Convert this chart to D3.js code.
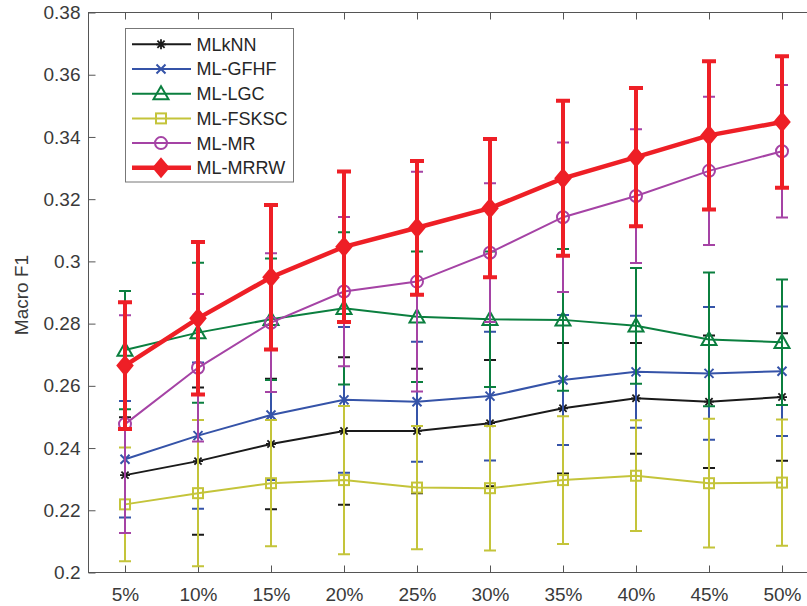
<!DOCTYPE html>
<html>
<head>
<meta charset="utf-8">
<script src="https://cdn.jsdelivr.net/npm/d3@7"></script>
<style>
  body { margin: 0; background: #fff; }
  svg { display: block; font-family: "Liberation Sans", Arial, sans-serif; }
</style>
</head>
<body>
<svg width="807" height="606"></svg>
<script>
const categories = ['5%', '10%', '15%', '20%', '25%', '30%', '35%', '40%', '45%', '50%'];
const yTicks = [0.2, 0.22, 0.24, 0.26, 0.28, 0.3, 0.32, 0.34, 0.36, 0.38];
const yTickLabels = ['0.2', '0.22', '0.24', '0.26', '0.28', '0.3', '0.32', '0.34', '0.36', '0.38'];

const mlknn = [0.2313, 0.2358, 0.2413, 0.2455, 0.2455, 0.2480, 0.2528, 0.2560, 0.2549, 0.2564];
const mlknnErr = [0.0186, 0.0237, 0.0210, 0.0237, 0.0200, 0.0203, 0.0210, 0.0178, 0.0213, 0.0205];
const gfhf = [0.2364, 0.2440, 0.2506, 0.2555, 0.2549, 0.2567, 0.2619, 0.2645, 0.2640, 0.2647];
const gfhfErr = [0.0187, 0.0235, 0.0209, 0.0234, 0.0193, 0.0207, 0.0209, 0.0180, 0.0213, 0.0208];
const lgc = [0.2715, 0.2771, 0.2814, 0.2849, 0.2822, 0.2814, 0.2812, 0.2793, 0.2749, 0.2740];
const lgcErr = [0.0190, 0.0225, 0.0195, 0.0245, 0.0210, 0.0218, 0.0228, 0.0186, 0.0215, 0.0202];
const fsksc = [0.2219, 0.2255, 0.2287, 0.2297, 0.2273, 0.2271, 0.2297, 0.2311, 0.2287, 0.2289];
const fskscErr = [0.0183, 0.0235, 0.0203, 0.0238, 0.0198, 0.0200, 0.0205, 0.0178, 0.0207, 0.0203];
const mr = [0.2477, 0.2658, 0.2803, 0.2903, 0.2935, 0.3028, 0.3142, 0.3210, 0.3291, 0.3354];
const mrErr = [0.0350, 0.0237, 0.0223, 0.0240, 0.0353, 0.0223, 0.0240, 0.0215, 0.0238, 0.0213];
const mrrw = [0.2665, 0.2817, 0.2949, 0.3047, 0.3108, 0.3171, 0.3267, 0.3335, 0.3405, 0.3448];
const mrrwErr = [0.0204, 0.0245, 0.0232, 0.0242, 0.0215, 0.0222, 0.0249, 0.0222, 0.0238, 0.0211];

const seriesNames = ['MLkNN', 'ML-GFHF', 'ML-LGC', 'ML-FSKSC', 'ML-MR', 'ML-MRRW'];

const series = [
  { name: seriesNames[0], values: mlknn, err: mlknnErr, color: '#1a1a1a', marker: 'star', width: 2 },
  { name: seriesNames[1], values: gfhf, err: gfhfErr, color: '#3553a8', marker: 'x', width: 2 },
  { name: seriesNames[2], values: lgc, err: lgcErr, color: '#0b7f3f', marker: 'triangle', width: 2 },
  { name: seriesNames[3], values: fsksc, err: fskscErr, color: '#c4c43a', marker: 'square', width: 2 },
  { name: seriesNames[4], values: mr, err: mrErr, color: '#a543a5', marker: 'circle', width: 2 },
  { name: seriesNames[5], values: mrrw, err: mrrwErr, color: '#ee1f26', marker: 'diamond', width: 4.5 }
];

const svg = d3.select('svg');
const axisColor = '#555';
const textColor = '#3a3a3a';

const plotLeft = 88.5, plotRight = 818.5, plotTop = 12.5, plotBottom = 572.5;

const xScale = d3.scalePoint()
  .domain(categories)
  .range([plotLeft, plotRight])
  .padding(0.5);

const yScale = d3.scaleLinear()
  .domain([0.2, 0.38])
  .range([plotBottom, plotTop]);

// axes box (right side falls outside the picture)
svg.append('rect')
  .attr('x', plotLeft).attr('y', plotTop)
  .attr('width', plotRight - plotLeft).attr('height', plotBottom - plotTop)
  .attr('fill', 'none').attr('stroke', axisColor).attr('stroke-width', 1);

const xAxis = svg.append('g')
  .attr('transform', `translate(0, ${plotBottom})`)
  .call(d3.axisBottom(xScale).tickSizeInner(-7).tickSizeOuter(0).tickPadding(15));
const xTop = svg.append('g')
  .attr('transform', `translate(0, ${plotTop})`)
  .call(d3.axisTop(xScale).tickSizeInner(-7).tickSizeOuter(0).tickFormat(''));
const yAxis = svg.append('g')
  .attr('transform', `translate(${plotLeft}, 0)`)
  .call(d3.axisLeft(yScale).tickValues(yTicks).tickSizeInner(-7).tickSizeOuter(0).tickPadding(15)
    .tickFormat((d, i) => yTickLabels[i]));

[xAxis, xTop, yAxis].forEach(g => {
  g.select('.domain').remove();
  g.selectAll('line').attr('stroke', axisColor);
  g.selectAll('text')
    .attr('fill', textColor)
    .style('font-size', '19px')
    .style('font-family', '"Liberation Sans", Arial, sans-serif');
});
xAxis.selectAll('text').attr('dy', '0.72em');
yAxis.selectAll('text').attr('x', -8);

svg.append('text')
  .attr('transform', 'translate(28, 295) rotate(-90)')
  .attr('text-anchor', 'middle')
  .attr('fill', textColor)
  .style('font-size', '19px')
  .text('Macro F1');

function drawMarker(g, type, color, x, y) {
  if (type === 'star') {
    const r = 5;
    const p = `M${x - r},${y}H${x + r}M${x},${y - r}V${y + r}` +
      `M${x - r * 0.72},${y - r * 0.72}L${x + r * 0.72},${y + r * 0.72}` +
      `M${x - r * 0.72},${y + r * 0.72}L${x + r * 0.72},${y - r * 0.72}`;
    g.append('path').attr('d', p).attr('stroke', color).attr('stroke-width', 1.8).attr('fill', 'none');
  } else if (type === 'x') {
    const r = 4.5;
    g.append('path').attr('d', `M${x - r},${y - r}L${x + r},${y + r}M${x - r},${y + r}L${x + r},${y - r}`)
      .attr('stroke', color).attr('stroke-width', 2).attr('fill', 'none');
  } else if (type === 'triangle') {
    const r = 7.5;
    g.append('path').attr('d', `M${x},${y - r}L${x + r},${y + r * 0.75}L${x - r},${y + r * 0.75}Z`)
      .attr('stroke', color).attr('stroke-width', 2).attr('fill', 'none');
  } else if (type === 'square') {
    const r = 5;
    g.append('rect').attr('x', x - r).attr('y', y - r).attr('width', 2 * r).attr('height', 2 * r)
      .attr('stroke', color).attr('stroke-width', 2).attr('fill', 'none');
  } else if (type === 'circle') {
    g.append('circle').attr('cx', x).attr('cy', y).attr('r', 6)
      .attr('stroke', color).attr('stroke-width', 2).attr('fill', 'none');
  } else if (type === 'diamond') {
    g.append('path').attr('d', `M${x},${y - 9}L${x + 7.5},${y}L${x},${y + 9}L${x - 7.5},${y}Z`)
      .attr('stroke', color).attr('stroke-width', 2).attr('fill', color);
  }
}

const line = d3.line()
  .x((d, i) => xScale(categories[i]))
  .y(d => yScale(d));

series.forEach(s => {
  const g = svg.append('g').attr('class', 'series');
  const capW = s.marker === 'diamond' ? 7 : 6;

  g.append('path')
    .datum(s.values)
    .attr('d', line)
    .attr('fill', 'none')
    .attr('stroke', s.color)
    .attr('stroke-width', s.width);

  g.selectAll('.bar')
    .data(s.values)
    .enter()
    .append('path')
    .attr('class', 'bar')
    .attr('d', (d, i) => {
      const x = xScale(categories[i]);
      const y1 = yScale(d + s.err[i]);
      const y0 = yScale(d - s.err[i]);
      return `M${x},${y1}V${y0}M${x - capW},${y1}H${x + capW}M${x - capW},${y0}H${x + capW}`;
    })
    .attr('fill', 'none')
    .attr('stroke', s.color)
    .attr('stroke-width', s.marker === 'diamond' ? 4 : 2);

  s.values.forEach((d, i) => drawMarker(g, s.marker, s.color, xScale(categories[i]), yScale(d)));
});

// legend
const legend = svg.append('g');
legend.append('rect')
  .attr('x', 125.5).attr('y', 28.5)
  .attr('width', 168).attr('height', 153.5)
  .attr('fill', '#fff').attr('stroke', '#777').attr('stroke-width', 1);

series.forEach((s, i) => {
  const y = 44.3 + i * 24.7;
  legend.append('line')
    .attr('x1', 132).attr('x2', 191).attr('y1', y).attr('y2', y)
    .attr('stroke', s.color).attr('stroke-width', s.width);
  drawMarker(legend, s.marker, s.color, 161, y);
  legend.append('text')
    .attr('x', 196.5).attr('y', y)
    .attr('dy', '0.36em')
    .attr('fill', '#262626')
    .style('font-size', '18px')
    .text(s.name);
});
</script>
</body>
</html>
